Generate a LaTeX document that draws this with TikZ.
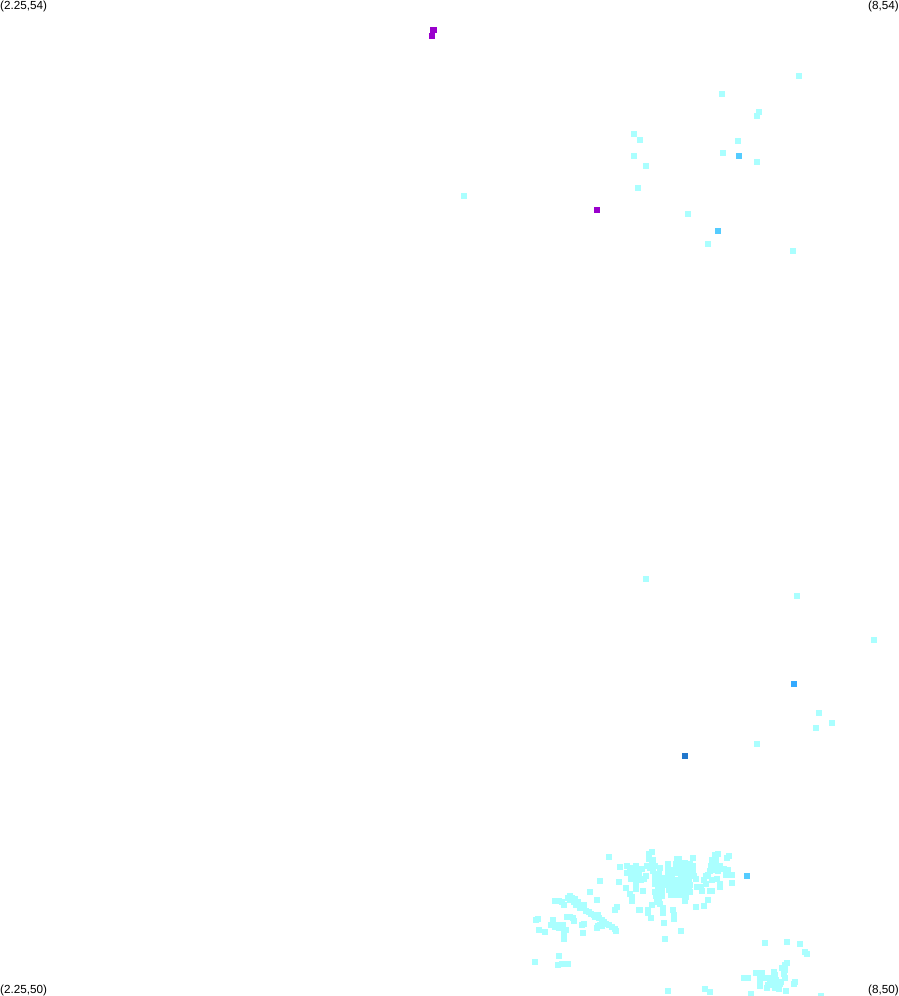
\documentclass[tikz,border=0pt]{standalone}
\usepackage{fontspec}
\setmainfont{Liberation Sans}
\definecolor{lightc}{HTML}{AAFFFF}
\definecolor{midc}{HTML}{55CCFF}
\definecolor{bluec}{HTML}{33AAFF}
\definecolor{deepc}{HTML}{2277CC}
\definecolor{purp}{HTML}{9900CC}
\tikzset{
  corner/.style={inner sep=0pt,font=\fontsize{11.7}{12}\selectfont,text=black},
}
\newcommand{\pts}[2]{\foreach \x/\y in {#2}{\fill[#1] (\x-3,\y-3) rectangle (\x+3,\y+3);}}
\begin{document}
\begin{tikzpicture}[x=1pt,y=-1pt]
\useasboundingbox (0,0) rectangle (899,996);
\fill[white] (0,0) rectangle (899,996);
% sparse upper field
\pts{lightc}{799/76,722/94,759/112,757/116,634/134,640/140,738/141,723/153,634/156,757/162,646/166,638/188,464/196,688/214,708/244,793/251}
% sparse middle
\pts{lightc}{646/579,797/596,874/640,819/713,832/723,816/728,757/744}
% left cluster
\pts{lightc}{609/857,620/867,600/881,619/882,590/892,597/900,626/888,617/907,615/910,639/910,555/901,559/901,562/902,564/905,
570/896,568/898,572/898,575/899,570/900,574/902,578/902,576/905,580/905,584/905,580/908,584/908,586/911,589/912,591/914,594/915,598/915,595/917,599/918,602/920,604/922,606/924,609/925,612/927,615/929,616/931,
600/925,598/926,597/928,602/926,583/933,582/925,584/924,567/917,570/917,573/918,574/921,538/919,536/920,539/930,545/932,
553/920,551/925,555/925,555/927,559/925,559/928,563/925,563/928,566/930,564/934,564/939,559/956,535/962,558/965,562/964,568/964}
% central cluster
\pts{lightc}{652/852,649/854,649/859,653/860,647/866,652/865,655/866,660/868,633/868,630/869,627/873,633/873,639/872,639/876,631/879,635/879,644/879,636/884,636/889,643/891,630/894,632/897,632/901,
655/874,659/874,655/878,655/884,659/884,658/889,655/892,659/895,662/896,659/899,660/904,663/908,663/913,652/905,648/910,648/913,651/918,640/910,664/923,681/931,665/939,673/910,674/915,674/919,
668/864,677/859,679/859,668/870,668/874,668/880,672/870,672/875,676/868,679/868,675/880,675/884,679/884,669/890,674/890,679/890,675/895,679/895,
685/863,685/868,685/873,685/878,685/883,685/889,685/894,685/901,689/869,689/874,689/880,693/866,693/871,694/876,696/879,689/888,693/858,690/885,683/895,686/897,
697/887,701/887,702/891,706/884,704/880,706/876,710/871,708/875,710/891,712/891,708/900,704/906,696/907,
715/855,718/854,712/860,716/860,715/864,720/866,718/871,724/869,728/870,726/875,732/875,717/879,720/884,720/887,732/883,729/856,727/858,
672/880,672/885,668/885,680/873,676/873,680/863,676/864,681/878,681/884,671/895,684/870,690/892,680/889,664/878,663/884,661/880,662/890,656/896,657/902,690/864,712/880,714/870,711/866,650/868,653/871,627/866,636/866,642/869,641/880,646/876}
% lower right cluster
\pts{lightc}{765/943,787/942,800/944,805/952,807/954,787/963,785/965,782/968,785/970,784/974,785/978,744/978,748/978,756/973,762/973,774/972,
760/978,760/982,760/986,764/978,768/978,772/978,775/975,776/980,770/982,767/988,775/988,779/989,780/984,781/982,795/982,794/984,786/991,751/994,821/996,774/985,768/985,
668/991,705/989,710/992}
% higher valued points
\pts{midc}{739/156,718/231,747/876}
\pts{bluec}{794/684}
\pts{deepc}{685/756}
\pts{purp}{433/30,434/30,432/36,597/210}
% corner labels
\node[corner,anchor=base west] (tl) at (0,9) {(2.25,54)};
\node[corner,anchor=base east] (tr) at (899,9) {(8,54)};
\node[corner,anchor=base west] (bl) at (0,993.4) {(2.25,50)};
\node[corner,anchor=base east] (br) at (899,993.4) {(8,50)};
\end{tikzpicture}
\end{document}
